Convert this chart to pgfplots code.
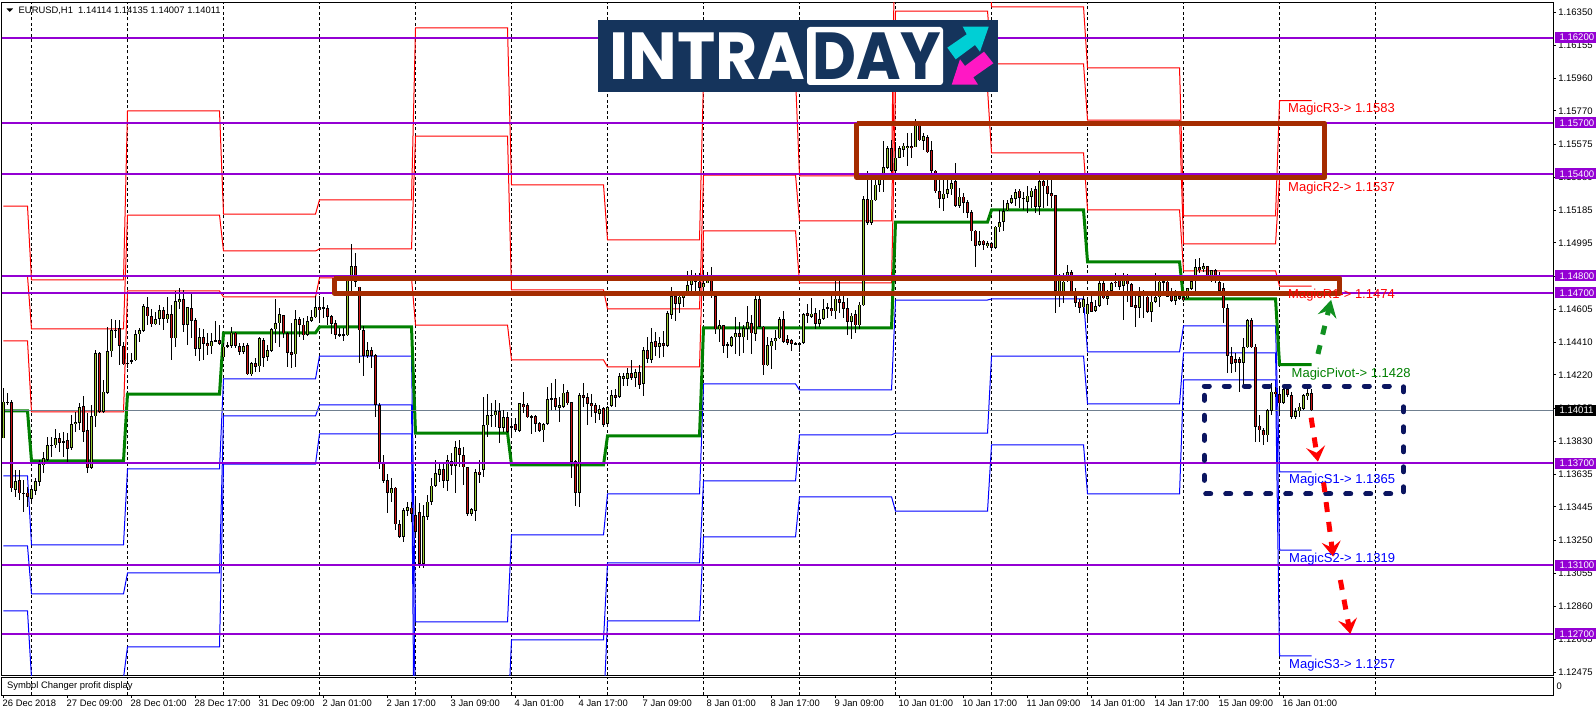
\documentclass[border=0pt]{standalone}
\usepackage{fontspec}
\usepackage{pgfplots}
\usepackage{pgfplotstable}
\pgfplotsset{compat=1.18}
\usetikzlibrary{arrows.meta}
\setmainfont{Liberation Sans}
\newfontfamily\logofont{Poppins}
\definecolor{mtpurple}{HTML}{9400D3}
\definecolor{mtbrown}{HTML}{A52C00}
\definecolor{mtnavy}{HTML}{0B1560}
\definecolor{mtup}{HTML}{9ACD32}
\definecolor{mtdown}{HTML}{CC1414}
\definecolor{mtgreen}{HTML}{008000}
\definecolor{mtgrey}{HTML}{708090}
\definecolor{logoblue}{HTML}{15345C}
\definecolor{logocyan}{HTML}{00CFD5}
\definecolor{logopink}{HTML}{FF18C4}
\definecolor{arrgreen}{HTML}{109020}
% candles: bar, open, high, low, close in pips above 1.1400
\pgfplotstableread{
i o h l c
0 -15.3 14.0 -15.3 6.2
1 6.2 11.1 4.3 5.4
2 5.8 7.2 -46.6 -44.7
3 -45.6 -33.9 -49.6 -40.4
4 -40 -33.9 -51.5 -47.6
5 -47.4 -39.8 -58.4 -47.8
6 -47.2 -43.7 -55.4 -49.6
7 -50.7 -44.7 -52.5 -45.3
8 -46 -38.8 -48.6 -40.4
9 -40.8 -28 -43.3 -30.4
10 -31.2 -23.1 -35.9 -27.1
11 -27.8 -14.3 -28 -19.4
12 -19.6 -14.3 -26.1 -19.4
13 -19.4 -10 -21.2 -15.3
14 -15.3 -12.4 -23.1 -17.9
15 -17.2 -11.4 -26.1 -17.5
16 -16.5 -12.4 -29 -21.4
17 -21 -1.6 -22.2 -7.1
18 -7.1 0.3 -11.4 -5.9
19 -6.1 5.2 -10.4 2.9
20 3.5 9.5 -17.3 -11.4
21 -10.6 -0.6 -35.9 -32.5
22 -32.5 4.3 -32.9 -2.4
23 -2.4 36.5 -8.5 34.6
24 34.6 35.6 -0.6 0.3
25 0.3 18.9 -0.6 12.1
26 11.5 50.2 11.1 35.8
27 35.8 54.7 32.6 48.3
28 48.3 54.2 43.4 48
29 49.3 54.2 27.7 39.1
30 38.9 41.4 27.7 28.1
31 28.7 33.6 25.8 28.7
32 30 34.6 28.3 30.5
33 30.5 48.3 30.3 45.7
34 45.7 49.3 41.4 48.3
35 47.9 63.6 47.3 62.2
36 61.6 67.9 51.2 56.3
37 56.3 60.6 50.2 51.6
38 51.6 59.1 51.2 54.7
39 54.7 63 51.2 59.8
40 59.8 62 48.3 54.7
41 54.6 67.9 52.2 57.5
42 57.5 63 30.7 43.4
43 43.4 71.2 38.5 65.3
44 64.9 72.8 60.6 66.3
45 66.3 71.8 47.3 51.2
46 51.4 62 39.5 61.6
47 61 69.8 43.4 53.8
48 54.2 55.1 33 37.3
49 37.3 49.3 30.3 44
50 44 48.7 30.7 40.3
51 40.5 46.3 33.6 38.7
52 38.7 46.3 34.2 41.6
53 42.1 53.8 41.4 42
54 42.2 51.2 39.5 40.1
55 32.2 40.5 31.7 38.5
56 39 41 37.9 39.1
57 39.1 50.2 37.5 46.7
58 46.7 47.3 37.5 39.1
59 38.9 40.5 33.6 35.6
60 35.6 40.5 34.2 38.9
61 39.5 40.5 21.9 22.3
62 22.3 29.7 21.3 28.7
63 28.7 31.7 23.8 26.8
64 27 44.4 23.8 43.6
65 42.2 43.4 26.8 31.9
66 32.6 39.5 30.3 36.5
67 36.2 49.3 35.6 48.7
68 48.7 66.3 40.5 52.2
69 52.2 61 38.5 57.7
70 56.9 57.3 43.4 46.3
71 46.3 47.3 26.8 35
72 35.2 52.2 25.8 33.8
73 34 60 26.8 54.6
74 54.6 55.7 44.4 51.2
75 51.4 55.1 42.4 45.2
76 45.6 56.5 44.8 53.6
77 53.8 60 53.2 55.7
78 55.7 68.3 55.1 61.6
79 61.6 68.3 54.2 60
80 61.5 67.9 55.1 61.3
81 61 63 51.2 56.1
82 56.5 57.1 45.9 51.8
83 52.2 54.2 42.8 45.6
84 45.4 49.3 44 45.3
85 45.4 49.3 42 45.3
86 45.2 78 44.8 77.6
87 78.6 98.8 69.8 85.7
88 85.7 93.3 73.7 76.7
89 73.7 73.7 28.7 48.1
90 48.3 50.6 21.5 33
91 33 41.4 31.7 36.5
92 36.5 38.5 25.8 33
93 33.4 34.2 -3 4.3
94 4.3 5.2 -33.5 -29.4
95 -29.4 -25.1 -41.7 -40.2
96 -39.8 -36.3 -59.3 -47.2
97 -47.6 -38.8 -52.5 -44.5
98 -44.3 -43.7 -69.1 -65.8
99 -65.8 -63.3 -74 -73
100 -73 -56.4 -76 -57.4
101 -57.8 -52.9 -60.9 -55.8
102 -56 -52.5 -64.2 -59.7
103 -60.3 -50 -74 -70.1
104 -58.8 -53.5 -91.6 -89.1
105 -89.1 -54.5 -91.6 -61.1
106 -61.3 -48.6 -63.3 -52.5
107 -52.5 -38.8 -54.5 -43.1
108 -43.3 -28 -43.7 -35.9
109 -36.8 -30 -40.8 -33.3
110 -33.5 -30 -44.7 -40.2
111 -40.2 -25.1 -46.2 -28.2
112 -28.8 -24.1 -36.8 -31.4
113 -31.4 -16.9 -47.2 -20.6
114 -21.2 -16.3 -32 -25.1
115 -25.3 -20.2 -42.7 -32.3
116 -32.3 -32 -60.9 -59.7
117 -59.7 -56.4 -60.9 -57
118 -57.8 -33.5 -63.7 -35.3
119 -34.9 -28 -41.7 -36.8
120 -33.7 8.8 -37.8 -7.7
121 -7.7 10.7 -14.3 -1.8
122 -1.9 5.6 -8.5 -1.7
123 -1.8 7.2 -8.5 0.7
124 0.7 5.2 -17.9 -9
125 -9 1.3 -11.4 -3
126 -3 0.3 -12.4 -11.6
127 -8.4 -3.6 -15.3 -8.6
128 -7.1 -3.6 -11.4 -10.4
129 -10.8 5.6 -11.4 5.2
130 4.7 11.7 -0.6 3.1
131 4.1 5.2 -3.6 -3
132 -2.6 -1.6 -13 -2.8
133 -2.2 -1.6 -11.4 -6.7
134 -6.5 -5.5 -11.4 -10.8
135 -10.6 -6.1 -17.3 -6.9
136 -6.7 14.6 -7.5 7.6
137 8.2 17 1.3 7.4
138 8.2 19.5 1.3 3.3
139 2.7 9.2 -5.5 4.1
140 3.3 16.6 2.3 11.5
141 11.7 13.1 4.3 5.2
142 5.8 6.2 -38.8 -29
143 -28.6 -28 -54.8 -47.2
144 -47.2 11.1 -55.4 10.1
145 10.1 17.4 3.3 8.6
146 8.8 11.1 -7.5 4.8
147 5.2 10.7 -2.6 3.7
148 4.3 5.2 -6.5 -0.2
149 -0.8 4.3 -4.5 1.7
150 2.3 3.3 -8.5 -7.5
151 -6.7 3.7 -7.5 2.9
152 3.9 13.1 3.3 9.9
153 9.9 13.5 3.3 8.6
154 9.2 23.2 8.2 21.3
155 19.5 22.8 15.6 21.3
156 19.7 25.8 15.4 22.8
157 22.8 30.7 18.9 20.1
158 20.1 25.2 15 23.4
159 23.4 27.7 13.5 16
160 16.8 38.5 9.7 36.5
161 36.5 44 28.7 31.3
162 30.7 49.3 29.1 41.2
163 41.6 47.3 33 38.5
164 38.5 44.4 31.7 40.5
165 40.5 47.7 32.6 39.1
166 39.1 59.6 38.9 58.1
167 57.3 73.7 54.6 68.3
168 68.3 69.8 53.8 63.6
169 63.6 68.8 58.5 67.9
170 67.3 71.2 62 68.8
171 68.3 83.1 68.3 74.7
172 74.7 83.5 68.8 77.3
173 77.3 81.6 68.8 77.4
174 76.7 81.6 70.8 72.9
175 73.3 83.5 65.9 75.7
176 75.7 82.5 75.7 77.3
177 77.3 85.1 67.3 68.3
178 68.3 68.8 45.9 48.7
179 48.7 54.2 41.2 51
180 51 51.2 35 39.1
181 39.5 41.4 32 39.5
182 39.1 44.8 38.5 44.2
183 44 55.7 34.2 46.3
184 46.3 53.2 33 44.4
185 44 51.2 34.6 49.5
186 49.1 62.4 42.4 52.8
187 52.2 57.1 34.2 46.3
188 45.9 68.8 42 66.5
189 66.5 68.3 49.9 50.2
190 50.2 50.6 21.9 27.5
191 27.5 44.4 27.2 39.3
192 38.7 43.4 25.6 41.8
193 41.6 48.3 36.5 43.4
194 43.4 56.1 43 54.6
195 54.6 59.4 40.9 41.4
196 42.8 45.4 39.5 40.9
197 42.2 42.8 36.2 40.3
198 40.3 41.2 39.5 40.2
199 40.1 40.9 35.2 40
200 40.9 58.1 40.5 57.5
201 58.1 63.6 52.2 56.7
202 55.9 66.9 55.1 57.9
203 58.1 61 48.7 51.8
204 52 60 50.2 54.6
205 54.8 66.2 54.4 60.7
206 61.3 64.2 55.4 61.3
207 61.3 68.1 56.4 59.3
208 59.3 77 54.8 66.6
209 66.2 77 58.4 64.2
210 64.6 68.1 55.4 60.9
211 61.3 67.2 45.6 53.1
212 52.9 58.4 43.1 56.8
213 57.4 60.3 46.6 51.1
214 51.1 64.6 48.6 63.2
215 62.7 126.8 62.3 125.3
216 125.3 141.9 110.2 111.2
217 111.2 136.6 110.2 124.9
218 124.5 138.6 123.9 133.7
219 133.7 140.5 129.2 136.6
220 136.6 159.3 129.2 144
221 143.7 156.2 142.9 155.2
222 155.2 160.1 140.9 141.9
223 141.9 158.6 139.4 149.4
224 149.4 156.2 149.4 155.2
225 154.2 158.2 149.9 156.6
226 155 164 144.5 156.2
227 156.2 164 149.4 155
228 155.6 171.9 155.6 168.3
229 168.3 169.9 159.1 159.7
230 159.3 164 154.2 162.1
231 161.7 163 152.3 152.7
232 153.7 159.5 140.2 141.9
233 141.9 142.1 128.8 129.8
234 129.8 136.6 120 125.3
235 125.3 136.6 118 128.4
236 128.4 139.6 125.9 130.8
237 130.8 139.6 127.8 134.7
238 135.5 146.4 120.6 121
239 121 131.7 120 126.5
240 126.5 128.8 117 122.9
241 123.5 124.9 114.1 117
242 117.6 118.6 100.4 106.3
243 106.7 107.3 85.2 97.9
244 98.3 106.3 97.5 100.6
245 100.8 101.4 95.5 98.1
246 97.5 100.4 96.5 99.4
247 99.4 100.2 95.5 96.7
248 96.5 109.2 96.3 108.9
249 108.6 118.6 105.7 111.6
250 111.6 124.9 106.3 118
251 118.6 124.9 118 122.9
252 122.9 127.8 122 125.9
253 125.3 131.2 121 129.4
254 130.2 131.2 120 125.7
255 125.7 129.2 119 125.5
256 123.5 132.7 117 127.2
257 126.3 131.7 120 130.2
258 130.8 132.7 117 120.6
259 120.6 141.5 116.1 135.5
260 135.5 136.6 120 132.7
261 133.1 136.6 121 128.4
262 128.8 136.6 120 126.8
263 127.4 127.8 58.4 71.1
264 70.8 81.2 61.6 79.6
265 70.8 81.6 64.4 76.7
266 77.7 86.5 76.7 82.2
267 82.2 83.6 68.5 68.9
268 69.9 72.8 62 64.4
269 65 66.3 58.1 61.4
270 61.6 70.8 58.1 66.3
271 57.5 67.9 52.2 63.4
272 64.6 68.9 58.7 59.1
273 59.7 66 59.1 62.4
274 62.4 77.7 62 75.7
275 75.7 77.7 66.3 66.9
276 66.7 71.8 63 68.3
277 71.2 76.7 70.8 75.7
278 76.7 81.6 73.8 75.7
279 77.7 79.6 71.8 73.8
280 74.2 81.6 54.2 77.3
281 77.7 81.2 65 75.1
282 75.1 75.7 61.6 62
283 63 70.8 50.3 61.4
284 61.4 73.8 55.2 68.3
285 68.9 71.8 55.2 68.9
286 67.9 70.8 58.5 59.1
287 59.1 68.9 53.2 65
288 65 81.6 64.6 67.5
289 67.5 80.6 62 76.7
290 76.7 80.6 68.9 76.7
291 76.7 77.7 67.5 67.9
292 68.9 72.8 65 65.6
293 65.6 71.8 63 68.3
294 68.3 70.8 66 66.5
295 67.5 68.9 65 66
296 66.9 72.8 66.7 72.8
297 72.4 79.3 71.8 77.1
298 77.1 89.8 71.4 85.1
299 85.1 90.4 82 83.6
300 83.9 87.5 82.6 85.9
301 85.9 85.9 79.6 80
302 80 83.6 76.7 83.6
303 83.6 84 75.7 80
304 76.3 82.6 69.9 71.2
305 72.7 75.7 52.6 61
306 61 63.5 22.8 33.2
307 33 38.5 22.8 28.5
308 31 35 23.8 29.1
309 31 32.6 11.7 29.1
310 29.1 43.4 14 38.1
311 38.1 54.7 37.5 54.1
312 54.1 55.5 37.9 38.1
313 38.5 40.1 -17.3 -8.5
314 -7.9 -1.6 -17.3 -10.6
315 -10.6 -9.5 -19.3 -13.6
316 -13.6 1.7 -17.3 1.3
317 0.9 17 -1.6 12
318 12 15 9.1 10.7
319 10.7 14 -1.6 5.2
320 5.6 16 5.2 13.6
321 13.6 15 9.1 10.1
322 9.9 12.1 -4 -2.6
323 -2.6 2.3 -4.2 0.5
324 0.5 5.2 -2.6 3.2
325 2.1 10.7 1.3 10.1
326 9.7 14 7.2 11.1
327 11.4 13.5 0.7 1.1
}\candles
% daily levels in pips above 1.1400
\pgfplotstableread{
i r3 r2 r1 p s1 s2 s3
0 121.1 80 41.9 0.8 -37.4 -78.5 -116.7
6 121.1 80 41.9 0.8 -37.4 -78.5 -116.7
7 77.7 48.9 0.2 -28.6 -77.9 -106.7 -156
30 77.7 48.9 0.2 -28.6 -77.9 -106.7 -156
31 176.9 115.8 71.2 10.7 -33.3 -94.4 -137.8
54 176.9 115.8 71.2 10.7 -33.3 -94.4 -137.8
55 116.4 94.7 67.7 46.6 19.6 -2.2 -30.4
78 116.4 94.7 67.7 46.6 19.6 -2.2 -30.4
79 124.7 95.9 78.9 50.1 33 4.3 -12.7
102 124.7 95.9 78.9 50.1 33 4.3 -12.7
103 225.7 162.2 51.2 -12.2 -123.1 -186.6 -297.5
126 225.7 162.2 51.2 -12.2 -123.1 -186.6 -297.5
127 133.5 71.8 30.7 -30.9 -72 -133.7 -174.8
150 133.5 71.8 30.7 -30.9 -72 -133.7 -174.8
151 101.2 60.7 26.6 -13.9 -48 -88.5 -122.5
174 101.2 60.7 26.6 -13.9 -48 -88.5 -122.5
175 196.3 139.3 106.5 49.5 16.6 -40.3 -73.2
198 196.3 139.3 106.5 49.5 16.6 -40.3 -73.2
199 138.8 112.3 76 49.5 13.1 -13.3 -49.7
222 138.8 112.3 76 49.5 13.1 -13.3 -49.7
223 313.7 235.6 189.8 111.7 65.9 -12.2 -58
246 313.7 235.6 189.8 111.7 65.9 -12.2 -58
247 238 204.5 152.3 118.8 66.5 33 -19.2
270 238 204.5 152.3 118.8 66.5 33 -19.2
271 202.2 171.6 118.8 88.3 35.4 4.9 -48
294 202.2 171.6 118.8 88.3 35.4 4.9 -48
295 115.3 98.8 83 66.5 50.7 34.8 19
318 115.3 98.8 83 66.5 50.7 34.8 19
319 183 137 74 28 -35 -81 -143
327 183 137 74 28 -35 -81 -143
}\levels
\newcommand{\lev}[2]{\addplot[#1,forget plot] table[x=i,y expr=1.14+\thisrow{#2}/10000]{\levels};}
\begin{document}
\begin{tikzpicture}
\path[use as bounding box] (0pt,0pt) rectangle (1596pt,716pt);
\begin{axis}[
  at={(2pt,41pt)},anchor=south west,
  width=1551pt,height=672.5pt,scale only axis,
  xmin=-0.375,xmax=387.375,
  ymin=1.12457,ymax=1.16406,
  axis line style={black,line width=1pt},
  xtick={7,31,55,79,103,127,151,175,199,223,247,271,295,319,343},
  xticklabels={},
  xmajorgrids=true,
  x tick style={draw=none},
  grid style={black,line width=1pt,dash pattern=on 3pt off 2.5pt},
  ytick pos=right,yticklabel pos=right,
  tick align=outside,
  major tick length=3pt,
  y tick style={black,line width=0.8pt},
  ytick={1.1635,1.16155,1.1596,1.1577,1.15575,1.1538,1.15185,1.14995,1.148,1.14605,1.1441,1.1422,1.14025,1.1383,1.13635,1.13445,1.1325,1.13055,1.1286,1.12665,1.12475},
  scaled y ticks=false,
  yticklabel style={/pgf/number format/.cd,fixed,fixed zerofill,precision=5,assume math mode=true,
     /tikz/.cd,font=\fontsize{9.5}{11}\selectfont,anchor=west,inner sep=0pt,xshift=2pt},
]
% daily pivot levels
\lev{red,line width=1pt}{r3}
\lev{red,line width=1pt}{r2}
\lev{red,line width=1pt}{r1}
\lev{blue,line width=1pt}{s1}
\lev{blue,line width=1pt}{s2}
\lev{blue,line width=1pt}{s3}
\lev{mtgreen,line width=3pt}{p}
% current price line
\addplot[mtgrey,line width=1pt,forget plot] coordinates {(-1,1.14011)(388,1.14011)};
% wicks
\addplot[draw=none,mark=none,forget plot,
  error bars/.cd,y dir=both,y explicit,error mark=none,
  error bar style={black,line width=1pt}]
  table[x=i,y expr=1.14+\thisrow{o}/10000,
    y error plus expr={(\thisrow{h}-\thisrow{o})/10000},
    y error minus expr={(\thisrow{o}-\thisrow{l})/10000}]{\candles};
% body outline
\addplot[draw=none,mark=none,forget plot,
  error bars/.cd,y dir=both,y explicit,error mark=none,
  error bar style={black,line width=3pt}]
  table[x=i,y expr={1.14+(\thisrow{o}+\thisrow{c})/20000},
    y error expr={max(abs(\thisrow{o}-\thisrow{c})/2,0.35)/10000}]{\candles};
% up bodies
\addplot[draw=none,mark=none,forget plot,
  error bars/.cd,y dir=both,y explicit,error mark=none,
  error bar style={mtup,line width=1.2pt}]
  table[x=i,y expr={1.14+(\thisrow{o}+\thisrow{c})/20000},
    y error expr={ifthenelse(\thisrow{c}>\thisrow{o},max((\thisrow{c}-\thisrow{o})/2-0.4,0),0)/10000}]{\candles};
% down bodies
\addplot[draw=none,mark=none,forget plot,
  error bars/.cd,y dir=both,y explicit,error mark=none,
  error bar style={mtdown,line width=1.2pt}]
  table[x=i,y expr={1.14+(\thisrow{o}+\thisrow{c})/20000},
    y error expr={ifthenelse(\thisrow{c}<\thisrow{o},max((\thisrow{o}-\thisrow{c})/2-0.4,0),0)/10000}]{\candles};
% horizontal levels
\addplot[mtpurple,line width=2pt,forget plot] coordinates {(-1,1.162)(388,1.162)};
\addplot[mtpurple,line width=2pt,forget plot] coordinates {(-1,1.157)(388,1.157)};
\addplot[mtpurple,line width=2pt,forget plot] coordinates {(-1,1.154)(388,1.154)};
\addplot[mtpurple,line width=2pt,forget plot] coordinates {(-1,1.148)(388,1.148)};
\addplot[mtpurple,line width=2pt,forget plot] coordinates {(-1,1.147)(388,1.147)};
\addplot[mtpurple,line width=2pt,forget plot] coordinates {(-1,1.137)(388,1.137)};
\addplot[mtpurple,line width=2pt,forget plot] coordinates {(-1,1.131)(388,1.131)};
\addplot[mtpurple,line width=2pt,forget plot] coordinates {(-1,1.127)(388,1.127)};
% annotation boxes
\addplot[mtbrown,line width=5.5pt,line join=round,line cap=square,forget plot]
  coordinates {(213.3,1.15696)(330.2,1.15696)(330.2,1.15379)(213.3,1.15379)(213.3,1.15696)};
\addplot[mtbrown,line width=5pt,line join=round,line cap=square,forget plot]
  coordinates {(82.7,1.14786)(334.1,1.14786)(334.1,1.14698)(82.7,1.14698)(82.7,1.14786)};
\addplot[mtnavy,line width=5pt,line cap=round,dash pattern=on 5pt off 15pt,forget plot]
  coordinates {(300.2,1.14154)(350,1.14154)(350,1.1352)(300.2,1.1352)(300.2,1.14154)};
% arrows
\addplot[arrgreen,line width=5pt,dash pattern=on 9pt off 11pt,-{Stealth[length=17pt,width=19pt,inset=6pt]},forget plot]
  coordinates {(328.6,1.14342)(331.9,1.1466)};
\addplot[red,line width=5pt,dash pattern=on 10pt off 10pt,-{Stealth[length=15pt,width=19pt,inset=6pt]},forget plot]
  coordinates {(326.9,1.13968)(328.6,1.1371)};
\addplot[red,line width=5pt,dash pattern=on 10pt off 10pt,-{Stealth[length=15pt,width=19pt,inset=6pt]},forget plot]
  coordinates {(330,1.13589)(332.4,1.13152)};
\addplot[red,line width=5pt,dash pattern=on 10pt off 10pt,-{Stealth[length=15pt,width=19pt,inset=6pt]},forget plot]
  coordinates {(334.2,1.13015)(336.7,1.12698)};
\end{axis}
% lower sub-window with the time axis
\begin{axis}[
  at={(2pt,21pt)},anchor=south west,
  width=1551pt,height=18pt,scale only axis,
  xmin=-0.375,xmax=387.375,ymin=0,ymax=1,
  axis line style={black,line width=1pt},
  ytick=\empty,
  xtick={0,16,32,48,64,80,96,112,128,144,160,176,192,208,224,240,256,272,288,304,320},
  xticklabels={26 Dec 2018,27 Dec 09:00,28 Dec 01:00,28 Dec 17:00,31 Dec 09:00,2 Jan 01:00,2 Jan 17:00,3 Jan 09:00,4 Jan 01:00,4 Jan 17:00,7 Jan 09:00,8 Jan 01:00,8 Jan 17:00,9 Jan 09:00,10 Jan 01:00,10 Jan 17:00,11 Jan 09:00,14 Jan 01:00,14 Jan 17:00,15 Jan 09:00,16 Jan 01:00},
  xtick pos=bottom,
  tick align=outside,
  major tick length=3pt,
  x tick style={black,line width=0.8pt},
  xticklabel style={font=\fontsize{9.4}{11}\selectfont,anchor=north west,inner sep=0pt,xshift=-1pt,yshift=-2pt},
  extra x ticks={7,31,55,79,103,127,151,175,199,223,247,271,295,319,343},
  extra x tick labels={},
  extra x tick style={xmajorgrids=true,major tick length=0pt},
  grid style={black,line width=1pt,dash pattern=on 3pt off 2.5pt},
]
\addplot[draw=none,forget plot] coordinates {(0,0)(1,1)};
\end{axis}
\begin{scope}[x=1pt,y=-1pt,shift={(0pt,716pt)}]
% chart header
\fill[black] (6.5,8.5)--(13,8.5)--(9.75,12)--cycle;
\node[anchor=west,inner sep=0pt,font=\fontsize{9.4}{11}\selectfont] at (18.5,10.7) {EURUSD,H1\ \ 1.14114 1.14135 1.14007 1.14011};
\node[anchor=west,inner sep=0pt,font=\fontsize{9.4}{11}\selectfont] at (7,686) {Symbol Changer profit display};
\node[anchor=west,inner sep=0pt,font=\fontsize{9.4}{11}\selectfont] at (1556.5,686.5) {0};
% price tags
\foreach \py/\pt in {37.6/1.16200,122.8/1.15700,173.9/1.15400,276/1.14800,293/1.14700,463.4/1.13700,565.5/1.13100,633.7/1.12700}{
  \fill[mtpurple] (1555,\py-5.5) rectangle (1596,\py+5.5);
  \node[white,anchor=west,inner sep=0pt,font=\fontsize{9.6}{11}\selectfont] at (1559.3,\py) {\pt};
}
\fill[black] (1555,404.9) rectangle (1596,415.9);
\node[white,anchor=west,inner sep=0pt,font=\fontsize{9.6}{11}\selectfont] at (1559.3,410.4) {1.14011};
% level labels
\node[red,anchor=west,inner sep=0pt,font=\fontsize{13}{15}\selectfont] at (1288,109.5) {MagicR3-> 1.1583};
\node[red,anchor=west,inner sep=0pt,font=\fontsize{13}{15}\selectfont] at (1288,188.5) {MagicR2-> 1.1537};
\node[red,anchor=west,inner sep=0pt,font=\fontsize{13}{15}\selectfont] at (1288,295) {MagicR1-> 1.1474};
\node[mtgreen,anchor=west,inner sep=0pt,font=\fontsize{13}{15}\selectfont] at (1291.5,374.5) {MagicPivot-> 1.1428};
\node[blue,anchor=west,inner sep=0pt,font=\fontsize{13}{15}\selectfont] at (1289,480) {MagicS1-> 1.1365};
\node[blue,anchor=west,inner sep=0pt,font=\fontsize{13}{15}\selectfont] at (1289,559) {MagicS2-> 1.1319};
\node[blue,anchor=west,inner sep=0pt,font=\fontsize{13}{15}\selectfont] at (1289,665) {MagicS3-> 1.1257};
% logo
\fill[logoblue] (598,20) rectangle (998,92);
\fill[white,rounded corners=3pt] (807,27) rectangle (943,85);
\node[white,anchor=north west,inner sep=0pt] at (609,33) {\resizebox{196pt}{46.7pt}{\logofont\bfseries INTRA}};
\node[logoblue,anchor=north west,inner sep=0pt] at (812,33) {\resizebox{129pt}{46.7pt}{\logofont\bfseries DAY}};
\fill[logocyan] (988.7,26.7)--(962.7,26.7)--(966.7,34.3)--(947.3,47.7)--(955.7,59.3)--(975,45)--(980,51.7)--cycle;
\fill[logopink] (951.7,84.7)--(978,84.7)--(973.3,77.3)--(993.3,63.3)--(984,51.7)--(965,66)--(960,59.3)--cycle;
\end{scope}
\end{tikzpicture}
\end{document}
